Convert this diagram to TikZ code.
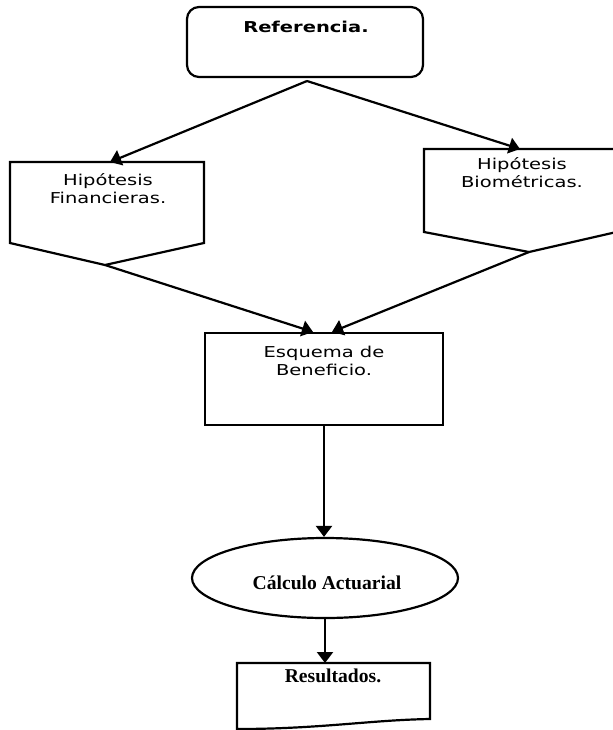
\documentclass[tikz,border=0pt]{standalone}
\usepackage{fontspec}
\newfontfamily\flowsans[FakeStretch=1.3]{DejaVu Sans}
\newfontfamily\flowserif{Liberation Serif}
\usetikzlibrary{arrows.meta,shapes.geometric}

\tikzset{
  flow/.style={line width=1.1pt},
  link/.style={flow,-{Triangle[length=5.5pt,width=8pt]}},
  sanstext/.style={font=\flowsans\fontsize{7.5}{9}\selectfont,align=center,inner sep=0pt,anchor=base},
  seriftext/.style={font=\flowserif\bfseries\fontsize{9.8}{11}\selectfont,inner sep=0pt,anchor=base},
}

\begin{document}
\begin{tikzpicture}[x=0.5pt,y=-0.5pt]
\useasboundingbox (0,0) rectangle (613,730);
\clip (0,0) rectangle (613,730);
% cajas
\node[flow,draw,rounded corners=6pt,minimum width=118pt,minimum height=35pt] (refbox) at (305,42) {};
\draw[flow] (10,162) -- (204,162) -- (204,243) -- (105,265) coordinate (finpt) -- (10,243) -- cycle;
\draw[flow] (424,149) -- (634,149) -- (634,228) -- (529,252) coordinate (biopt) -- (424,232) -- cycle;
\node[flow,draw,minimum width=119pt,minimum height=46pt] (esqbox) at (324,379) {};
\node[flow,draw,ellipse,minimum width=133pt,minimum height=40pt] (calc) at (325,578) {};
\draw[flow] (237,663) -- (430,663) -- (430,719) .. controls (370,720) and (320,729) .. (237,729) -- cycle;
\coordinate (refpt) at (307,81);
\coordinate (fintop) at (110,162);
\coordinate (biotop) at (520,149);
\coordinate (restop) at (325,663);
% textos (base = ultima linea)
\node[sanstext] (ref) at (306,32) {\bfseries Referencia.};
\node[sanstext] (hypfin) at (108,203) {Hipótesis\\Financieras.};
\node[sanstext] (hypbio) at (522,187) {Hipótesis\\Biométricas.};
\node[sanstext] (esq) at (324,375) {Esquema de\\Beneficio.};
\node[seriftext] (calctext) at (327,589) {Cálculo Actuarial};
\node[seriftext] (res) at (333,682) {Resultados.};
% flechas
\draw[link] (refpt) -- (fintop);
\draw[link] (refpt) -- (biotop);
\draw[link] (finpt) -- ([xshift=-5.5pt]esqbox.north);
\draw[link] (biopt) -- ([xshift=4pt]esqbox.north);
\draw[link] (esqbox.south) -- (esqbox.south |- calc.north);
\draw[link] (calc.south) -- (calc.south |- restop);
\end{tikzpicture}
\end{document}
